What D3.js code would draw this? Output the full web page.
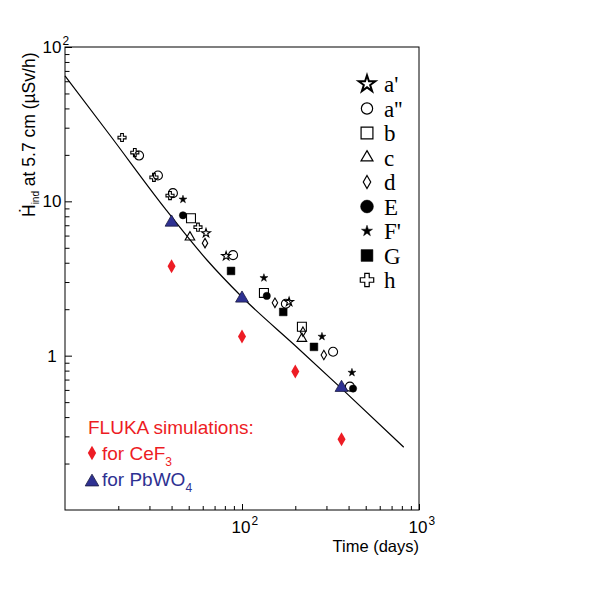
<!DOCTYPE html>
<html>
<head>
<meta charset="utf-8">
<script src="https://cdn.jsdelivr.net/npm/d3@7"></script>
<style>
  body { margin: 0; background: #fff; }
  svg { display: block; }
  text { font-family: "Liberation Sans", Arial, sans-serif; }
  text.serif { font-family: "Liberation Serif", "Times New Roman", serif; }
</style>
</head>
<body>
<div id="chart"></div>
<script>
// fitted curve (days, dose rate in uSv/h)
const curveDays = [10, 18, 36.7, 63, 100, 200, 372, 820];
const curveDose = [65, 26.7, 9.0, 4.2, 2.4, 1.16, 0.60, 0.255];

// measured series
const seriesNames = ["a'", "a''", "b", "c", "d", "E", "F'", "G", "h"];
const aPrimeDays = [62.6, 81.3, 184.5];
const aPrimeDose = [6.22, 4.42, 2.23];
const aDoubleDays = [26.2, 33.5, 40.7, 89.0, 177, 327, 407];
const aDoubleDose = [19.8, 14.7, 11.3, 4.48, 2.17, 1.06, 0.63];
const bDays = [51.5, 133, 218];
const bDose = [7.77, 2.55, 1.54];
const cDays = [50.8, 218];
const cDose = [5.86, 1.29];
const dDays = [61.8, 153.5, 221, 290];
const dDose = [5.36, 2.20, 1.43, 1.01];
const eDays = [46.4, 138, 424];
const eDose = [8.12, 2.44, 0.612];
const fPrimeDays = [46.4, 133, 283, 418];
const fPrimeDose = [10.3, 3.19, 1.33, 0.777];
const gDays = [86.7, 171, 255];
const gDose = [3.54, 1.92, 1.14];
const hDays = [21.0, 24.8, 31.8, 39.2, 56.4];
const hDose = [25.9, 20.7, 14.3, 10.9, 6.80];

// FLUKA simulations
const cef3Days = [40, 100, 200, 365];
const cef3Dose = [3.8, 1.33, 0.79, 0.287];
const pbwoDays = [40, 100, 365];
const pbwoDose = [7.3, 2.35, 0.62];

// axis ticks
const xMajor = [100, 1000];
const xMajorExp = ["2", "3"];
const xMinor = [20, 30, 40, 50, 60, 70, 80, 90, 200, 300, 400, 500, 600, 700, 800, 900];
const yMajor = [1, 10, 100];
const yMajorBase = ["1", "10", "10"];
const yMajorExp = ["", "", "2"];
const yMinor = [0.2, 0.3, 0.4, 0.5, 0.6, 0.7, 0.8, 0.9, 2, 3, 4, 5, 6, 7, 8, 9,
                20, 30, 40, 50, 60, 70, 80, 90];

const RED = "#ed1c24";
const BLUE = "#2e3192";

const svg = d3.select("#chart").append("svg")
  .attr("width", 600).attr("height", 600);

const x = d3.scaleLog().domain([10, 1000]).range([65, 419]);
const y = d3.scaleLog().domain([0.1, 100]).range([510, 47]);

// axes (ticks pointing inward)
function drawAxis(axis, tr) {
  const g = svg.append("g").attr("transform", tr).call(axis);
  g.select(".domain").remove();
  g.selectAll("line").attr("stroke", "#000").attr("stroke-width", 1);
}
drawAxis(d3.axisLeft(y).tickValues(yMajor).tickSize(-7).tickFormat(""), "translate(65,0)");
drawAxis(d3.axisLeft(y).tickValues(yMinor).tickSize(-4.5).tickFormat(""), "translate(65,0)");
drawAxis(d3.axisBottom(x).tickValues(xMajor).tickSize(-6).tickFormat(""), "translate(0,510)");
drawAxis(d3.axisBottom(x).tickValues(xMinor).tickSize(-4).tickFormat(""), "translate(0,510)");

svg.append("rect")
  .attr("x", x(10)).attr("y", y(100))
  .attr("width", x(1000) - x(10)).attr("height", y(0.1) - y(100))
  .attr("fill", "none").attr("stroke", "#000").attr("stroke-width", 1);

// power-of-ten label: base centered at cx, exponent raised after it
function powLabel(cx, baseY, base, exp, fs) {
  const t = svg.append("text").attr("x", cx).attr("y", baseY)
    .attr("font-size", fs).attr("text-anchor", "middle").text(base);
  if (exp) {
    const w = t.node().getComputedTextLength();
    svg.append("text").attr("x", cx + w / 2 + 1).attr("y", baseY - fs * 0.5)
      .attr("font-size", fs * 0.7).text(exp);
  }
}
yMajor.forEach((v, i) => powLabel(52, y(v) + 6, yMajorBase[i], yMajorExp[i], 17));
xMajor.forEach((v, i) => powLabel(x(v) - 1, 533, "10", xMajorExp[i], 17));

svg.append("text")
  .attr("x", 419).attr("y", 552).attr("text-anchor", "end")
  .attr("font-size", 16.5).text("Time (days)");

// y-axis title
const yt = svg.append("text")
  .attr("transform", "translate(35,217) rotate(-90)")
  .attr("font-size", 17.5);
yt.append("tspan").text("\u1E22");
yt.append("tspan").attr("font-size", 10).attr("dy", 4).text("ind");
yt.append("tspan").attr("dy", -4).text(" at 5.7 cm (\u00B5Sv/h)");

// fitted curve
const curvePts = curveDays.map((d, i) => [d, curveDose[i]]);
svg.append("path")
  .datum(curvePts)
  .attr("fill", "none").attr("stroke", "#000").attr("stroke-width", 1.2)
  .attr("d", d3.line().x(d => x(d[0])).y(d => y(d[1])).curve(d3.curveMonotoneX));

// symbol styles per series
const styles = {
  "a'":  { type: d3.symbolStar, size: 24, fill: "none", lSize: 85 },
  "a''": { type: d3.symbolCircle, size: 64, fill: "none", lSize: 100 },
  "b":   { type: d3.symbolSquare, size: 80, fill: "none", lSize: 140 },
  "c":   { type: d3.symbolTriangle, size: 40, fill: "none", lSize: 62 },
  "d":   { type: d3.symbolDiamond, size: 26, fill: "none", lSize: 48 },
  "E":   { type: d3.symbolCircle, size: 42, fill: "#000", lSize: 130 },
  "F'":  { type: d3.symbolStar, size: 20, fill: "#000", lSize: 38 },
  "G":   { type: d3.symbolSquare, size: 60, fill: "#000", lSize: 140 },
  "h":   { type: d3.symbolCross, size: 36, fill: "none", lSize: 100 }
};
const seriesDays = [aPrimeDays, aDoubleDays, bDays, cDays, dDays, eDays, fPrimeDays, gDays, hDays];
const seriesDose = [aPrimeDose, aDoubleDose, bDose, cDose, dDose, eDose, fPrimeDose, gDose, hDose];

seriesNames.forEach((name, k) => {
  const st = styles[name];
  const pts = seriesDays[k].map((d, i) => [d, seriesDose[k][i]]);
  svg.append("g").selectAll("path").data(pts).join("path")
    .attr("transform", d => `translate(${x(d[0])},${y(d[1])})`)
    .attr("d", d3.symbol().type(st.type).size(st.size))
    .attr("fill", st.fill)
    .attr("stroke", "#000").attr("stroke-width", st.fill === "none" ? 1.1 : 0.5);
});

// FLUKA points
svg.append("g").selectAll("path").data(cef3Days.map((d, i) => [d, cef3Dose[i]])).join("path")
  .attr("transform", d => `translate(${x(d[0])},${y(d[1])})`)
  .attr("d", d3.symbol().type(d3.symbolDiamond).size(56))
  .attr("fill", RED);
svg.append("g").selectAll("path").data(pbwoDays.map((d, i) => [d, pbwoDose[i]])).join("path")
  .attr("transform", d => `translate(${x(d[0])},${y(d[1])})`)
  .attr("d", d3.symbol().type(d3.symbolTriangle).size(72))
  .attr("fill", BLUE).attr("stroke", "#1a1a40").attr("stroke-width", 0.8);

// legend of measured series
const legend = svg.append("g");
seriesNames.forEach((name, i) => {
  const st = styles[name];
  const cy = 84 + i * 24.5;
  legend.append("path")
    .attr("transform", `translate(367,${cy})`)
    .attr("d", d3.symbol().type(st.type).size(st.lSize))
    .attr("fill", st.fill)
    .attr("stroke", "#000")
    .attr("stroke-width", name === "a'" ? 2 : st.fill === "none" ? 1.2 : 0.5);
  legend.append("text")
    .attr("class", "serif")
    .attr("x", 384).attr("y", cy + 8)
    .attr("font-size", 23).text(name);
});

// FLUKA legend
svg.append("text").attr("x", 88).attr("y", 434)
  .attr("font-size", 19).attr("fill", RED).text("FLUKA simulations:");
svg.append("path").attr("transform", "translate(92,453)")
  .attr("d", d3.symbol().type(d3.symbolDiamond).size(60)).attr("fill", RED);
const t1 = svg.append("text").attr("x", 102).attr("y", 460)
  .attr("font-size", 19).attr("fill", RED);
t1.append("tspan").text("for CeF");
t1.append("tspan").attr("font-size", 12).attr("dy", 6).text("3");
svg.append("path").attr("transform", "translate(92,482)")
  .attr("d", d3.symbol().type(d3.symbolTriangle).size(80))
  .attr("fill", BLUE).attr("stroke", "#1a1a40").attr("stroke-width", 0.8);
const t2 = svg.append("text").attr("x", 102).attr("y", 486)
  .attr("font-size", 19).attr("fill", BLUE);
t2.append("tspan").text("for PbWO");
t2.append("tspan").attr("font-size", 12).attr("dy", 6).text("4");
</script>
</body>
</html>
